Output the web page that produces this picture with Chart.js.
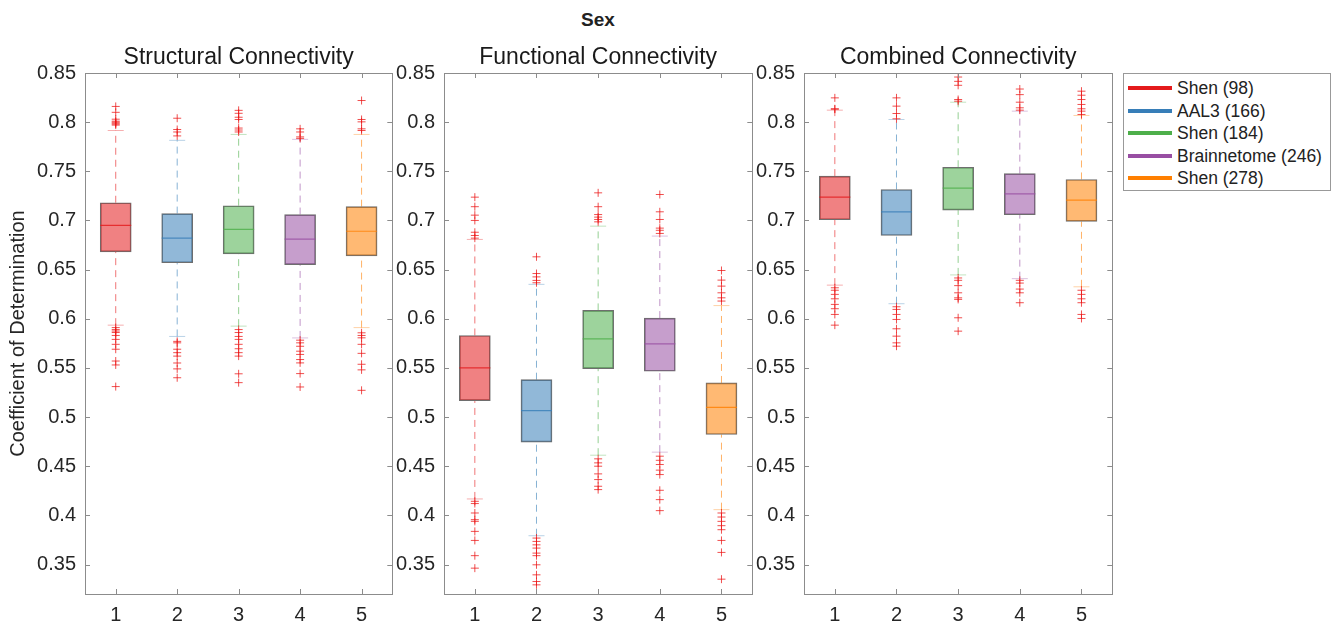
<!DOCTYPE html>
<html>
<head>
<meta charset="utf-8">
<script src="https://cdn.jsdelivr.net/npm/chart.js@4.4.1/dist/chart.umd.min.js"></script>
<style>
  body { margin: 0; background: #fff; }
  #wrap { position: relative; width: 1340px; height: 627px; font-family: "Liberation Sans", Arial, sans-serif; }
  canvas { position: absolute; top: 0; }
  #mainTitle { position: absolute; top: 9px; left: 0; width: 1196px; text-align: center; font-weight: bold; font-size: 19px; color: #222; }
  #legend { position: absolute; left: 1123px; top: 73px; width: 208px; height: 118px; border: 1px solid #999; box-sizing: border-box; background: #fff; }
  .row { position: absolute; left: 4px; height: 22px; line-height: 22px; font-size: 17.5px; color: #222; white-space: nowrap; }
  .row span { display: inline-block; width: 44px; height: 4px; vertical-align: middle; margin-right: 5px; position: relative; top: -1px; }
</style>
</head>
<body>
<div id="wrap">
  <div id="mainTitle">Sex</div>
  <canvas id="structural" width="409" height="627" style="left:0px"></canvas>
  <canvas id="functional" width="379" height="627" style="left:390px"></canvas>
  <canvas id="combined" width="379" height="627" style="left:750px"></canvas>
  <div id="legend"></div>
</div>
<script>
// parcellations along the x axis
const categories = [1, 2, 3, 4, 5];
const atlasNames = ['Shen (98)', 'AAL3 (166)', 'Shen (184)', 'Brainnetome (246)', 'Shen (278)'];
const atlasRGB = [[228, 26, 28], [55, 126, 184], [77, 175, 74], [152, 78, 163], [255, 127, 0]];
const yTicks = [0.35, 0.4, 0.45, 0.5, 0.55, 0.6, 0.65, 0.7, 0.75, 0.8, 0.85];

// structural connectivity
const structQ1 = [0.668, 0.657, 0.666, 0.655, 0.664];
const structMedian = [0.695, 0.682, 0.691, 0.681, 0.689];
const structQ3 = [0.718, 0.707, 0.715, 0.706, 0.714];
const structLow = [0.5935, 0.582, 0.5925, 0.5805, 0.591];
const structHigh = [0.7915, 0.7815, 0.7875, 0.7825, 0.7875];
const structOutliers = [
  [0.816, 0.81, 0.803, 0.801, 0.800, 0.799, 0.798, 0.797, 0.591, 0.589, 0.5875, 0.586, 0.583, 0.579, 0.574, 0.569, 0.557, 0.553, 0.531],
  [0.804, 0.7925, 0.790, 0.786, 0.577, 0.5755, 0.569, 0.5655, 0.562, 0.555, 0.549, 0.540],
  [0.812, 0.809, 0.805, 0.8027, 0.794, 0.792, 0.790, 0.589, 0.586, 0.582, 0.579, 0.574, 0.5695, 0.5655, 0.562, 0.544, 0.535],
  [0.7932, 0.790, 0.785, 0.7835, 0.5782, 0.5755, 0.572, 0.567, 0.5637, 0.5585, 0.5551, 0.5442, 0.5306],
  [0.822, 0.8027, 0.8003, 0.7932, 0.7915, 0.5857, 0.583, 0.5806, 0.574, 0.5648, 0.5537, 0.548, 0.5272]
];

// functional connectivity
const funcQ1 = [0.5167, 0.4745, 0.5493, 0.5466, 0.4823];
const funcMedian = [0.55, 0.5065, 0.5796, 0.5745, 0.5099];
const funcQ3 = [0.583, 0.538, 0.6085, 0.6007, 0.5347];
const funcLow = [0.4167, 0.3793, 0.4612, 0.4643, 0.4058];
const funcHigh = [0.6807, 0.635, 0.6942, 0.6841, 0.6134];
const funcOutliers = [
  [0.7237, 0.714, 0.7054, 0.700, 0.688, 0.6847, 0.682, 0.4143, 0.412, 0.4024, 0.3956, 0.3939, 0.3837, 0.3745, 0.359, 0.3463],
  [0.663, 0.646, 0.6426, 0.639, 0.6366, 0.3769, 0.3735, 0.370, 0.3667, 0.3616, 0.359, 0.3497, 0.3395, 0.3327, 0.3293],
  [0.7281, 0.714, 0.706, 0.7034, 0.701, 0.6986, 0.4575, 0.4534, 0.450, 0.4422, 0.4364, 0.4296, 0.4262],
  [0.7264, 0.7088, 0.701, 0.6922, 0.690, 0.6868, 0.4602, 0.456, 0.4517, 0.446, 0.4415, 0.4255, 0.416, 0.4048],
  [0.6491, 0.6393, 0.6332, 0.6264, 0.6213, 0.618, 0.4024, 0.3983, 0.3939, 0.3895, 0.3854, 0.3745, 0.3623, 0.3351]
];

// combined connectivity
const combQ1 = [0.7007, 0.6847, 0.7105, 0.7058, 0.699];
const combMedian = [0.7237, 0.7088, 0.7329, 0.7271, 0.7207];
const combQ3 = [0.7451, 0.7315, 0.7541, 0.7476, 0.7417];
const combLow = [0.6342, 0.6153, 0.6446, 0.6408, 0.6325];
const combHigh = [0.8122, 0.8027, 0.8203, 0.8112, 0.8068];
const combOutliers = [
  [0.8247, 0.8136, 0.8132, 0.6315, 0.629, 0.6248, 0.6203, 0.6146, 0.6102, 0.6044, 0.5935],
  [0.8247, 0.8163, 0.8088, 0.8034, 0.6122, 0.6095, 0.6044, 0.5993, 0.5898, 0.5823, 0.5755, 0.5721],
  [0.8459, 0.8415, 0.8375, 0.823, 0.8213, 0.6415, 0.6391, 0.6337, 0.6264, 0.6213, 0.6197, 0.601, 0.5874],
  [0.8337, 0.828, 0.8203, 0.8146, 0.8122, 0.6391, 0.6363, 0.6302, 0.6264, 0.6163],
  [0.8315, 0.8274, 0.823, 0.818, 0.8136, 0.8112, 0.8078, 0.629, 0.6248, 0.6203, 0.6163, 0.6044, 0.6003]
];

Chart.defaults.font.family = '"Liberation Sans", Arial, sans-serif';
Chart.defaults.color = '#262626';

const rgba = (c, a) => `rgba(${c[0]},${c[1]},${c[2]},${a})`;

// box outline + inward tick marks on all four sides, title centred over the plot area
const frameAxes = {
  id: 'frameAxes',
  afterDraw(chart, args, opts) {
    const { ctx, chartArea: a, scales } = chart;
    ctx.save();
    ctx.strokeStyle = '#8c8c8c';
    ctx.lineWidth = 1;
    ctx.strokeRect(Math.round(a.left) + 0.5, Math.round(a.top) + 0.5, Math.round(a.right - a.left), Math.round(a.bottom - a.top));
    ctx.beginPath();
    scales.y.ticks.forEach(t => {
      const y = Math.round(scales.y.getPixelForValue(t.value)) + 0.5;
      ctx.moveTo(a.left, y); ctx.lineTo(a.left + 5, y);
      ctx.moveTo(a.right, y); ctx.lineTo(a.right - 5, y);
    });
    scales.x.ticks.forEach(t => {
      const x = Math.round(scales.x.getPixelForValue(t.value)) + 0.5;
      ctx.moveTo(x, a.bottom); ctx.lineTo(x, a.bottom - 5);
      ctx.moveTo(x, a.top); ctx.lineTo(x, a.top + 5);
    });
    ctx.stroke();

    ctx.fillStyle = '#1a1a1a';
    ctx.font = '23px "Liberation Sans", Arial, sans-serif';
    ctx.textAlign = 'center';
    ctx.textBaseline = 'middle';
    ctx.fillText(opts.text, (a.left + a.right) / 2, a.top - 15);
    ctx.restore();
  }
};

function makePanel(id, title, q1, med, q3, low, high, outliers, yWidth, padRight, yLabel) {
  const datasets = [];

  // dashed whiskers, one line per box
  categories.forEach((c, i) => {
    datasets.push({
      type: 'line',
      data: [{ x: c, y: low[i] }, { x: c, y: q1[i] }, { x: c, y: null }, { x: c, y: q3[i] }, { x: c, y: high[i] }],
      borderColor: rgba(atlasRGB[i], 0.6),
      borderWidth: 1,
      borderDash: [7, 5],
      pointRadius: 0,
      spanGaps: false,
      order: 5
    });
  });

  // whisker caps
  datasets.push({
    type: 'scatter',
    data: categories.flatMap((c, i) => [{ x: c, y: low[i] }, { x: c, y: high[i] }]),
    pointStyle: 'line',
    pointRadius: 8,
    pointBorderWidth: 1,
    pointBorderColor: categories.flatMap((c, i) => [rgba(atlasRGB[i], 0.35), rgba(atlasRGB[i], 0.35)]),
    order: 4
  });

  // interquartile boxes
  datasets.push({
    type: 'bar',
    data: categories.map((c, i) => ({ x: c, y: [q1[i], q3[i]] })),
    backgroundColor: atlasRGB.map(c => rgba(c, 0.55)),
    borderColor: '#6e6e6e',
    borderWidth: 1,
    borderSkipped: false,
    barThickness: 31,
    order: 3
  });

  // medians
  datasets.push({
    type: 'scatter',
    data: categories.map((c, i) => ({ x: c, y: med[i] })),
    pointStyle: 'line',
    pointRadius: 15.5,
    pointBorderWidth: 1.2,
    pointBorderColor: atlasRGB.map(c => rgba(c, 0.8)),
    order: 2
  });

  // outliers
  datasets.push({
    type: 'scatter',
    data: categories.flatMap((c, i) => outliers[i].map(v => ({ x: c, y: v }))),
    pointStyle: 'cross',
    pointRadius: 4,
    pointBorderWidth: 1,
    pointBorderColor: 'rgba(235,20,20,0.75)',
    order: 1
  });

  const noPad = s => { s.paddingLeft = 0; s.paddingRight = 0; s.paddingTop = 0; s.paddingBottom = 0; };

  new Chart(document.getElementById(id), {
    type: 'bar',
    data: { datasets },
    options: {
      responsive: false,
      animation: false,
      events: [],
      layout: { padding: { top: 73, right: padRight, bottom: 0, left: 0 } },
      plugins: {
        legend: { display: false },
        tooltip: { enabled: false },
        title: { display: false },
        frameAxes: { text: title }
      },
      scales: {
        x: {
          type: 'linear',
          min: 0.5,
          max: 5.5,
          offset: false,
          grid: { display: false, drawTicks: false, offset: false },
          border: { display: false },
          ticks: { padding: 9, font: { size: 20 }, color: '#262626' },
          afterBuildTicks: s => { s.ticks = categories.map(v => ({ value: v })); },
          afterFit: s => { s.height = 33; noPad(s); }
        },
        y: {
          type: 'linear',
          min: 0.32,
          max: 0.85,
          grid: { display: false, drawTicks: false },
          border: { display: false },
          ticks: { padding: 9, font: { size: 20 }, color: '#262626', callback: v => String(+v.toFixed(2)) },
          title: {
            display: !!yLabel,
            text: yLabel || '',
            font: { size: 20 },
            color: '#262626',
            padding: { top: 6, bottom: 0 }
          },
          afterBuildTicks: s => { s.ticks = yTicks.map(v => ({ value: v })); },
          afterFit: s => { s.width = yWidth; noPad(s); }
        }
      }
    },
    plugins: [frameAxes]
  });
}

makePanel('structural', 'Structural Connectivity', structQ1, structMedian, structQ3, structLow, structHigh, structOutliers, 85, 8, 'Coefficient of Determination');
makePanel('functional', 'Functional Connectivity', funcQ1, funcMedian, funcQ3, funcLow, funcHigh, funcOutliers, 54, 9, null);
makePanel('combined', 'Combined Connectivity', combQ1, combMedian, combQ3, combLow, combHigh, combOutliers, 54, 9, null);

// legend entries
const legend = document.getElementById('legend');
atlasNames.forEach((name, i) => {
  const row = document.createElement('div');
  row.className = 'row';
  row.style.top = (3 + i * 22.5) + 'px';
  row.innerHTML = `<span style="background:${rgba(atlasRGB[i], 1)}"></span>${name}`;
  legend.appendChild(row);
});
</script>
</body>
</html>
